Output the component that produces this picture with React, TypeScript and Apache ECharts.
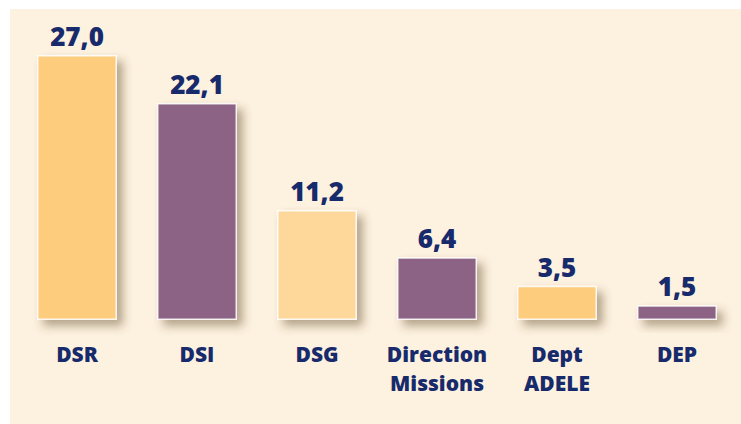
import React, { useEffect, useRef } from "react";
import * as echarts from "echarts";

const categories = ["DSR", "DSI", "DSG", "Direction\nMissions", "Dept\nADELE", "DEP"];
const values = [27.0, 22.1, 11.2, 6.4, 3.5, 1.5];
const barColors = ["#FDCD7D", "#8C6384", "#FED89B", "#8C6384", "#FDCD7D", "#8C6384"];

const NAVY = "#172A6B";

export default function App() {
  const ref = useRef<HTMLDivElement>(null);
  useEffect(() => {
    if (!ref.current) return;
    const chart = echarts.init(ref.current, undefined, { renderer: "svg" });
    chart.setOption({
      animation: false,
      backgroundColor: "#FFFFFF",
      graphic: [
        {
          type: "rect",
          z: -10,
          silent: true,
          shape: { x: 10, y: 9, width: 731, height: 415 },
          style: { fill: "#FDF1DF" },
        },
      ],
      grid: { left: 17, right: 4, top: 55, bottom: 104 },
      xAxis: {
        type: "category",
        data: categories,
        axisLine: { show: false },
        axisTick: { show: false },
        axisLabel: {
          interval: 0,
          color: NAVY,
          fontFamily: "Open Sans",
          fontWeight: 800,
          fontSize: 21,
          lineHeight: 29,
          margin: 19,
        },
      },
      yAxis: {
        type: "value",
        min: 0,
        max: 27,
        show: false,
        splitLine: { show: false },
      },
      series: [
        {
          type: "bar",
          barWidth: 80,
          data: values.map((v, i) => ({
            value: v,
            itemStyle: { color: barColors[i] },
          })),
          itemStyle: {
            borderColor: "rgba(255,255,255,0.85)",
            borderWidth: 1.5,
            shadowColor: "rgba(90,70,40,0.45)",
            shadowBlur: 10,
            shadowOffsetX: 6,
            shadowOffsetY: 6,
          },
          label: {
            show: true,
            position: "top",
            distance: 6,
            color: NAVY,
            fontFamily: "Open Sans",
            fontWeight: 800,
            fontSize: 26,
            formatter: (p: any) => p.value.toFixed(1).replace(".", ","),
          },
        },
      ],
    });
    return () => chart.dispose();
  }, []);
  return (
    <div
      ref={ref}
      style={{ position: "fixed", left: 0, top: 0, width: 741, height: 424 }}
    />
  );
}
